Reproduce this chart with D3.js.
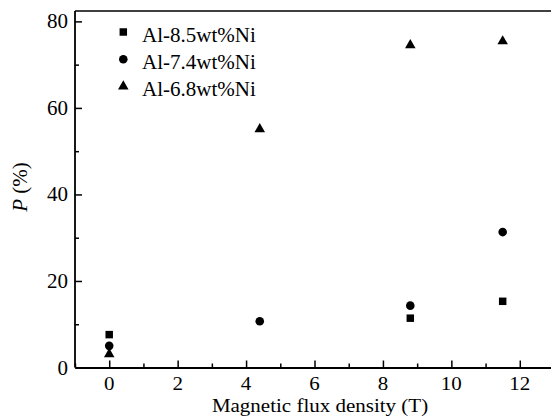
<!DOCTYPE html>
<html>
<head>
<meta charset="utf-8">
<script src="https://cdn.jsdelivr.net/npm/d3@7"></script>
<style>
  body { margin: 0; background: #fff; }
  svg text { font-family: "Liberation Serif", "DejaVu Serif", serif; }
</style>
</head>
<body>
<svg id="chart" width="551" height="416"></svg>
<script>
// 데이터
const seriesNames = ["Al-8.5wt%Ni", "Al-7.4wt%Ni", "Al-6.8wt%Ni"];
const seriesShapes = ["square", "circle", "triangle"];
const x85 = [0, 8.8, 11.5];
const y85 = [7.6, 11.4, 15.3];
const x74 = [0, 4.4, 8.8, 11.5];
const y74 = [5.0, 10.7, 14.3, 31.3];
const x68 = [0, 4.4, 8.8, 11.5];
const y68 = [3.1, 55.1, 74.5, 75.4];
const xTicks = [0, 2, 4, 6, 8, 10, 12];
const yTicks = [0, 20, 40, 60, 80];

const series = [
  { name: seriesNames[0], shape: seriesShapes[0], xs: x85, ys: y85 },
  { name: seriesNames[1], shape: seriesShapes[1], xs: x74, ys: y74 },
  { name: seriesNames[2], shape: seriesShapes[2], xs: x68, ys: y68 },
];

const FONT = "'Liberation Serif', 'DejaVu Serif', serif";
const svg = d3.select("#chart");
const mLeft = 75, mTop = 11, mRight = 554, mBottom = 367.5;

const x = d3.scaleLinear().domain([-1, 13]).range([mLeft, mRight]);
const y = d3.scaleLinear().domain([0, 82.4]).range([mBottom, mTop]);

// 심볼 모양
const sym = {
  square: d3.symbol().type(d3.symbolSquare).size(56),
  circle: d3.symbol().type(d3.symbolCircle).size(58),
  triangle: d3.symbol().type(d3.symbolTriangle).size(48),
};

// 프레임 위쪽 선
svg.append("line").attr("x1", mLeft).attr("x2", mRight).attr("y1", mTop).attr("y2", mTop)
  .attr("stroke", "#000").attr("stroke-width", 1.5);

// x축: 안쪽 눈금
const xAxis = svg.append("g").attr("transform", `translate(0,${mBottom})`)
  .call(d3.axisBottom(x).tickValues(d3.range(-1, 14, 1)).tickSize(0).tickFormat(""));
xAxis.select(".domain").attr("stroke-width", 1.8);
xAxis.selectAll(".tick line")
  .attr("y2", d => (d % 2 === 0 ? -7 : -4)).attr("stroke-width", 1.5);
// x축 글자는 원본에서 세로로 조금 눌려 있음
svg.append("g").selectAll("text").data(xTicks).join("text")
  .attr("transform", d => `translate(${x(d)},389.5) scale(1,0.9)`)
  .attr("font-family", FONT)
  .attr("text-anchor", "middle").attr("font-size", 21).text(d => d);

// y축
const yAxis = svg.append("g").attr("transform", `translate(${mLeft},0)`)
  .call(d3.axisLeft(y).tickValues(d3.range(0, 90, 10)).tickSize(0).tickFormat(""));
yAxis.select(".domain").attr("stroke-width", 1.8).attr("d", `M0,${mBottom}V${mTop}`);
yAxis.selectAll(".tick line")
  .attr("x2", d => (d % 20 === 0 ? 7 : 4)).attr("stroke-width", 1.5);
svg.append("g").selectAll("text").data(yTicks).join("text")
  .attr("x", 68).attr("y", d => y(d) + 7)
  .attr("font-family", FONT)
  .attr("text-anchor", "end").attr("font-size", 21).text(d => d);

// 점 그리기
series.forEach(s => {
  svg.append("g").selectAll("path").data(s.xs.map((v, i) => [v, s.ys[i]])).join("path")
    .attr("d", sym[s.shape])
    .attr("transform", d => `translate(${x(d[0])},${y(d[1])})`)
    .attr("fill", "#000");
});

// 범례
const legend = svg.append("g");
series.forEach((s, i) => {
  const ly = 32 + i * 27.2;
  legend.append("path").attr("d", sym[s.shape])
    .attr("transform", `translate(123.3,${ly})`).attr("fill", "#000");
  legend.append("text").attr("x", 142).attr("y", ly + 9.7)
    .attr("font-family", FONT)
    .attr("font-size", 21).text(s.name);
});

// 축 제목
svg.append("text").attr("transform", "translate(320,411.7) scale(1,0.9)")
  .attr("text-anchor", "middle")
  .attr("font-family", FONT)
  .attr("font-size", 21).text("Magnetic flux density (T)");
const yl = svg.append("text").attr("transform", "translate(27,187) rotate(-90)")
  .attr("font-family", FONT)
  .attr("text-anchor", "middle").attr("font-size", 21);
yl.append("tspan").attr("font-style", "italic").text("P");
yl.append("tspan").text(" (%)");
</script>
</body>
</html>
